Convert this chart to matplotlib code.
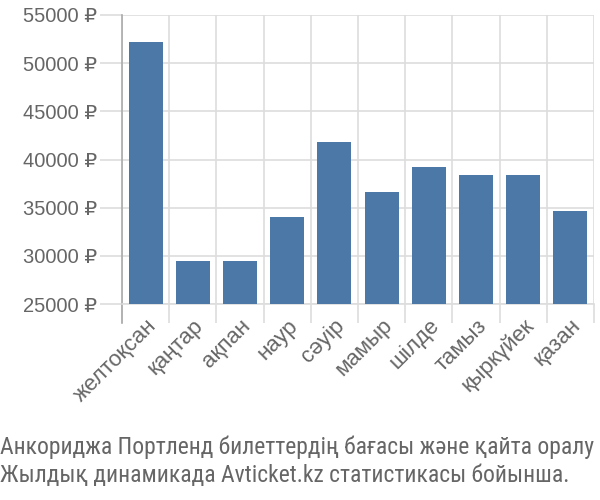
import matplotlib
matplotlib.use("Agg")
import matplotlib.pyplot as plt
import numpy as np

months = ["желтоқсан", "қаңтар", "ақпан", "наур", "сәуір", "мамыр",
          "шілде", "тамыз", "қыркүйек", "қазан"]
prices = [52200, 29500, 29500, 34000, 41800, 36600, 39200, 38400, 38400, 34650]
yticks = [25000, 30000, 35000, 40000, 45000, 50000, 55000]
caption = ["Анкориджа Портленд билеттердің бағасы және қайта оралу",
           "Жылдық динамикада Avticket.kz статистикасы бойынша."]

plt.rcParams['font.family'] = ['Liberation Sans', 'DejaVu Sans']
txt = "#666666"
grid = "#dddddd"

fig = plt.figure(figsize=(6, 5), dpi=100)
ax = fig.add_axes([122/600, 1-304/500, 472/600, (304-15)/500])
x = np.arange(len(months))
ax.bar(x, prices, width=0.72, color="#4c78a8", zorder=3, bottom=0)
ax.set_xlim(-0.5, len(months)-0.5)
ax.set_ylim(25000, 55000)
ax.set_yticks(yticks)
ax.set_yticklabels([f"{v} ₽" for v in yticks], color=txt, fontsize=14.5)
ax.set_xticks(x)
ax.set_xticklabels(months, rotation=45, ha='right', va='top',
                   rotation_mode='anchor', color=txt, fontsize=16)
ax.set_xticks(np.arange(-0.5, len(months)), minor=True)
ax.tick_params(axis='x', which='major', length=0, pad=8)
ax.tick_params(axis='x', which='minor', length=14, color=grid, width=1.2)
ax.tick_params(axis='y', length=16, color=grid, width=1.2, pad=2)
ax.grid(axis='y', color=grid, lw=1.2, zorder=0)
ax.grid(axis='x', which='minor', color=grid, lw=1.2, zorder=0)
for s in ['top', 'right']:
    ax.spines[s].set_visible(False)
ax.spines['bottom'].set_color(grid)
ax.spines['bottom'].set_linewidth(1.2)
ax.spines['left'].set_color("#aaaaaa")
ax.spines['left'].set_linewidth(1.2)
ax.set_axisbelow(True)
ax.plot([-0.5, -0.5], [0, -19/289], transform=ax.get_xaxis_transform(),
        color="#aaaaaa", lw=1.2, clip_on=False)

cap_kw = dict(family=['Roboto Condensed', 'PT Sans Narrow', 'Liberation Sans', 'DejaVu Sans'],
              fontsize=17)
fig.text(0.0, 1-447/500, caption[0], color=txt, va='center', ha='left', **cap_kw)
fig.text(0.0, 1-475/500, caption[1], color=txt, va='center', ha='left', **cap_kw)
fig.savefig("out.png", dpi=100)
